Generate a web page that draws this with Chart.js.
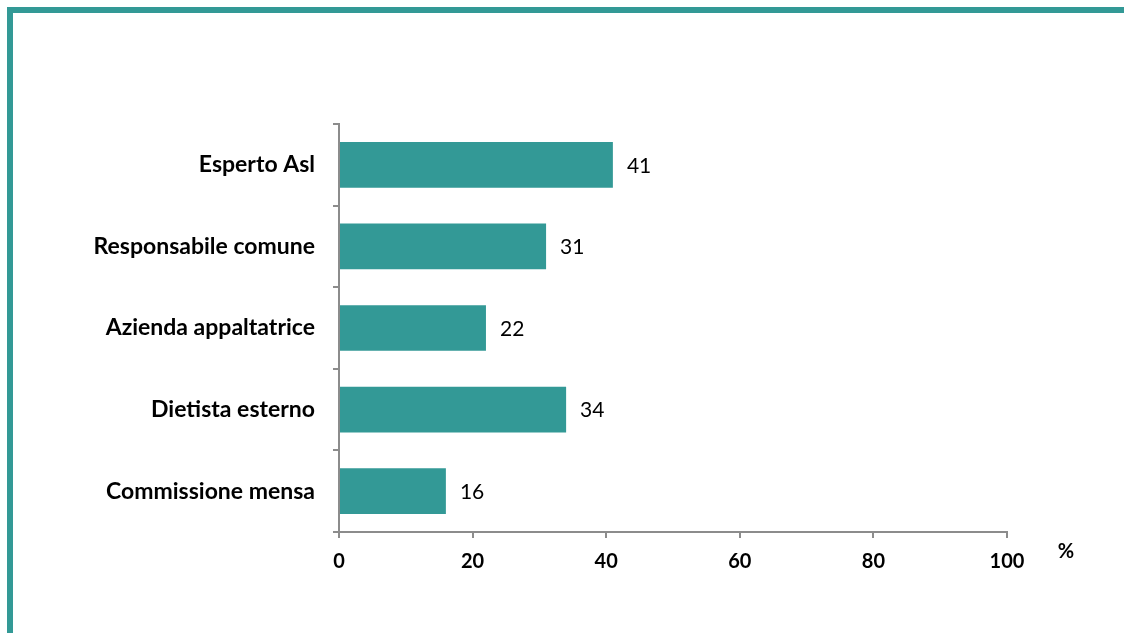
<!DOCTYPE html>
<html>
<head>
<meta charset="utf-8">
<script src="https://cdn.jsdelivr.net/npm/chart.js@4/dist/chart.umd.min.js"></script>
<style>
  html, body { margin: 0; padding: 0; background: #fff; }
  #wrap { position: relative; width: 1124px; height: 633px; overflow: hidden; }
  #frame {
    position: absolute; left: 7px; top: 7px; width: 1200px; height: 700px;
    border-left: 6px solid #339996; border-top: 6px solid #339996;
  }
  canvas { position: absolute; left: 0; top: 0; }
</style>
</head>
<body>
<div id="wrap">
  <div id="frame"></div>
  <canvas id="chart" width="1124" height="633"></canvas>
</div>
<script>
// Data
const categories = ['Esperto Asl', 'Responsabile comune', 'Azienda appaltatrice', 'Dietista esterno', 'Commissione mensa'];
const values = [41, 31, 22, 34, 16];
const xTicks = [0, 20, 40, 60, 80, 100];

const barColor = '#339996';
const axisColor = '#8c8c8c';
const fontFamily = 'Lato, "Open Sans", sans-serif';

// Value labels next to bars + the "%" unit
const labelsPlugin = {
  id: 'labels',
  afterDatasetsDraw(chart) {
    const ctx = chart.ctx;
    const meta = chart.getDatasetMeta(0);
    ctx.save();
    ctx.font = '21px ' + fontFamily;
    ctx.fillStyle = '#000';
    ctx.textAlign = 'left';
    ctx.textBaseline = 'middle';
    meta.data.forEach((bar, i) => {
      ctx.fillText(values[i], bar.x + 14, bar.y + 1);
    });
    ctx.font = 'bold 20px ' + fontFamily;
    ctx.textAlign = 'center';
    ctx.fillText('%', chart.chartArea.right + 59, chart.chartArea.bottom + 20);
    ctx.restore();
  }
};

const ctx = document.getElementById('chart').getContext('2d');
new Chart(ctx, {
  type: 'bar',
  data: {
    labels: categories,
    datasets: [{
      data: values,
      backgroundColor: barColor,
      categoryPercentage: 1,
      barPercentage: 0.56
    }]
  },
  options: {
    indexAxis: 'y',
    responsive: false,
    animation: false,
    layout: { padding: { left: 0, top: 124, right: 117, bottom: 61 } },
    plugins: {
      legend: { display: false },
      tooltip: { enabled: false }
    },
    scales: {
      x: {
        min: 0,
        max: 100,
        afterBuildTicks: (axis) => { axis.ticks = xTicks.map(v => ({ value: v })); },
        afterFit: (axis) => { axis.height = 40; },
        grid: { drawOnChartArea: false, drawTicks: true, tickLength: 6, color: axisColor, lineWidth: 2 },
        border: { color: axisColor, width: 2 },
        ticks: { color: '#000', padding: 12, font: { family: fontFamily, size: 20, weight: 'bold' } }
      },
      y: {
        afterFit: (axis) => { axis.width = 339; },
        grid: { drawOnChartArea: false, drawTicks: true, tickLength: 6, color: axisColor, lineWidth: 2, offset: true },
        border: { color: axisColor, width: 2 },
        ticks: { color: '#000', padding: 18, font: { family: fontFamily, size: 23, weight: 'bold' } }
      }
    }
  },
  plugins: [labelsPlugin]
});
</script>
</body>
</html>
